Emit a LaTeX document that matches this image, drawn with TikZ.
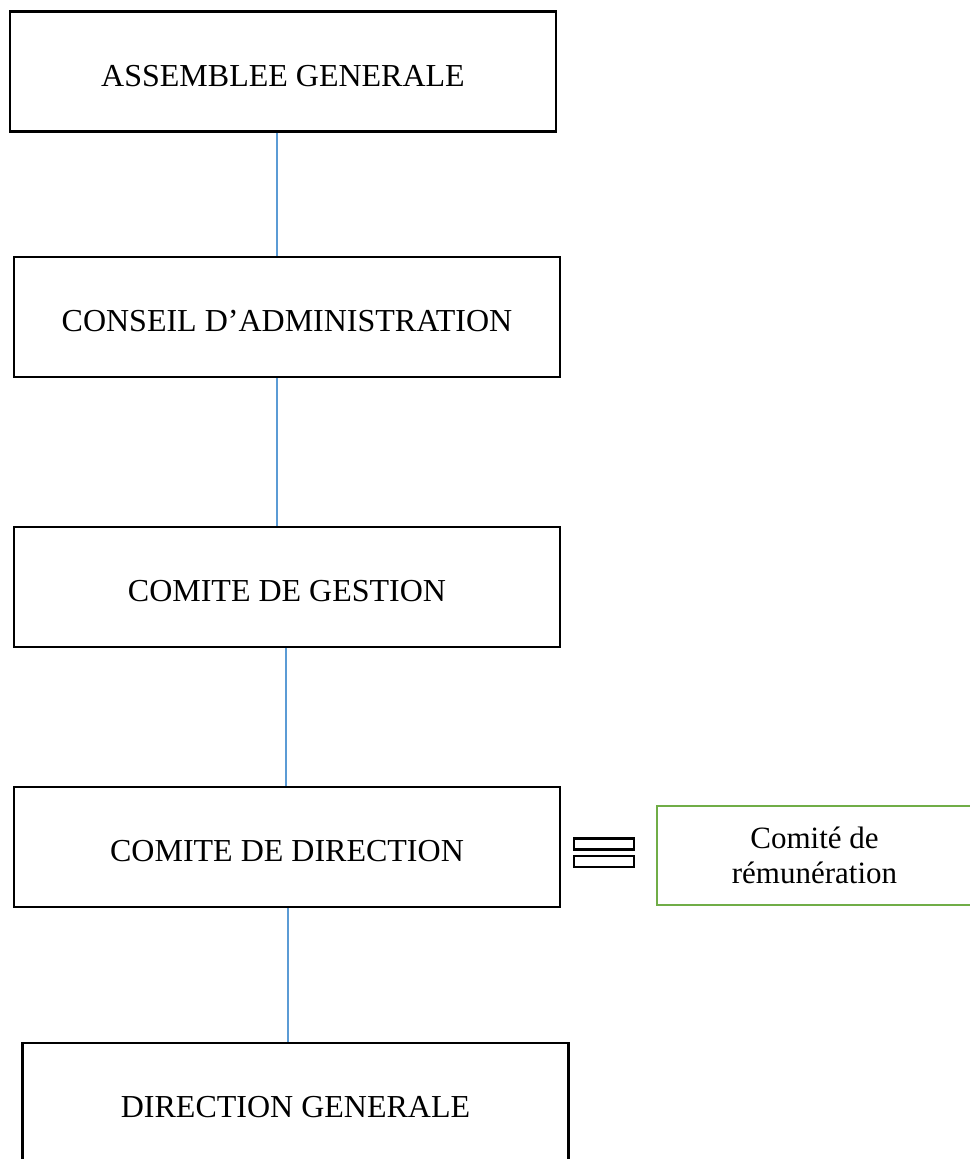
\documentclass[tikz,border=0pt]{standalone}
\usepackage{fontspec}
\setmainfont{Liberation Serif}
\usepackage{xcolor}
\usepackage{tikz}
\usetikzlibrary{positioning}

\definecolor{linkblue}{RGB}{91,155,213}
\definecolor{boxgreen}{RGB}{112,173,71}

\begin{document}
\begin{tikzpicture}[
            x=1pt, y=-1pt,
            box/.style={rectangle, draw, line width=2.8pt, minimum width=546pt, minimum height=120pt, inner sep=0pt, text height=29pt, text depth=0pt, font=\fontsize{32}{38}\selectfont},
            sidebox/.style={rectangle, draw=boxgreen, line width=2pt, minimum width=315pt, minimum height=99pt, inner sep=0pt, align=center, font=\fontsize{31}{35}\selectfont},
            eqbar/.style={rectangle, draw, line width=2.2pt, minimum width=60pt, minimum height=11pt, inner sep=0pt},
            link/.style={draw=linkblue, line width=1.5pt}
        ]
            \useasboundingbox (0,0) rectangle (969,1159);

            \node[box] (assemblee) at (283,71.5) {ASSEMBLEE GENERALE};
            \node[box] (conseil) at (287,317) {CONSEIL D’ADMINISTRATION};
            \node[box] (gestion) at (287,587) {COMITE DE GESTION};
            \node[box] (direction) at (287,847) {COMITE DE DIRECTION};
            \node[box] (generale) at (295.5,1103) {DIRECTION GENERALE};
            \node[sidebox] (remuneration) at (814.5,855.5) {Comité de\\rémunération};
            \node[eqbar] (eqtop) at (604,844) {};
            \node[eqbar] (eqbot) at (604,861.5) {};

            \draw[link] ([xshift=-6pt]assemblee.south) -- ([xshift=-10pt]conseil.north);
            \draw[link] ([xshift=-10pt]conseil.south) -- ([xshift=-10pt]gestion.north);
            \draw[link] ([xshift=-1pt]gestion.south) -- ([xshift=-1pt]direction.north);
            \draw[link] ([xshift=1pt]direction.south) -- ([xshift=-7.5pt]generale.north);
        \end{tikzpicture}
\end{document}
